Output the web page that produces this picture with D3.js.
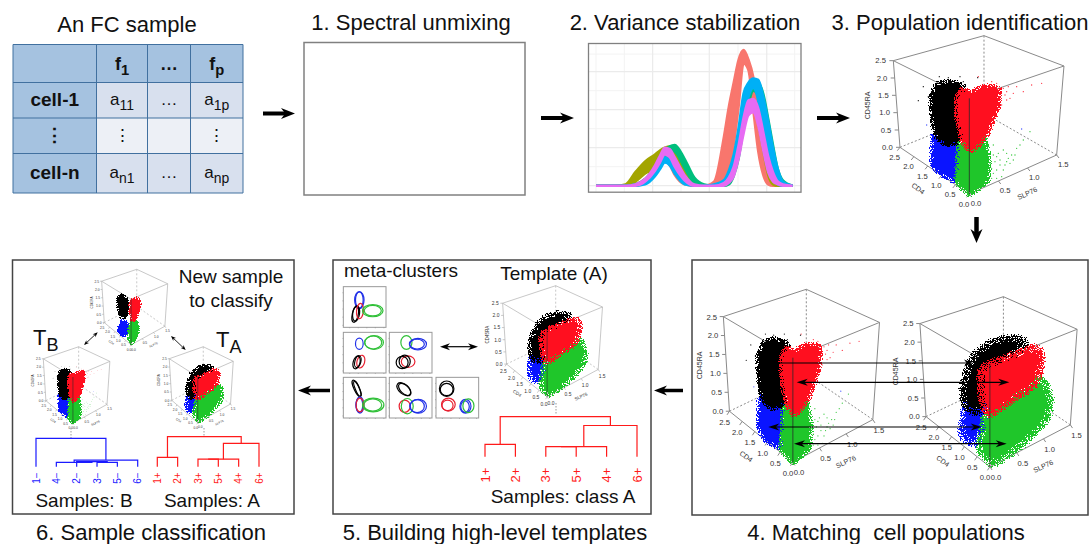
<!DOCTYPE html>
<html>
<head>
<meta charset="utf-8">
<script src="https://cdn.jsdelivr.net/npm/d3@7"></script>
<style>
body { margin: 0; background: #fff; }
svg { display: block; }
text { font-family: "Liberation Sans", Arial, sans-serif; fill: #111; }
</style>
</head>
<body>
<div id="chart"></div>
<script>
// ---------- table values ----------
const tableCols = ["", "f|1", "…", "f|p"];
const tableRows = ["cell-1", "⋮", "cell-n"];
const tableCells = [
  ["a|11", "…", "a|1p"],
  ["⋮", "", "⋮"],
  ["a|n1", "…", "a|np"]
];

// ---------- density curves (step 2): outer and inner edge of each colour's bundle ----------
const densX = [0, 1, 1.5, 2, 2.5, 3, 3.25, 3.5, 3.75, 4, 4.5, 5, 5.5, 6, 6.5, 6.75, 7, 7.25, 7.5, 7.75, 8, 8.25, 8.5, 8.75, 9, 9.25, 9.5, 10];
const salmonOuter = [0,0,0,.01,.05,.13,.19,.22,.19,.13,.04,.01,0,.03,.36,.58,.76,.93,1,.93,.8,.55,.3,.1,.01,0,0,0];
const salmonInner = [0,0,0,0,.02,.08,.14,.18,.15,.08,.01,0,0,0,.02,.1,.3,.58,.9,.85,.55,.25,.08,.01,0,0,0,0];
const oliveOuter = [0,0,.01,.1,.18,.23,.26,.28,.29,.26,.14,.03,0,0,.02,.08,.18,.35,.55,.62,.63,.58,.44,.25,.1,.03,.01,0];
const oliveInner = [0,0,0,.03,.09,.13,.17,.22,.24,.18,.05,0,0,0,0,.03,.1,.25,.48,.58,.6,.46,.26,.08,.01,0,0,0];
const greenOuter = [0,0,0,.01,.05,.14,.2,.26,.29,.3,.2,.06,.01,0,.01,.05,.13,.3,.55,.7,.77,.76,.68,.5,.3,.12,.04,0];
const greenInner = [0,0,0,0,.03,.09,.15,.22,.26,.25,.13,.02,0,0,0,.01,.07,.2,.42,.6,.7,.66,.5,.28,.11,.03,0,0];
const blueOuter = [0,0,0,.01,.03,.1,.16,.21,.19,.13,.03,0,0,.01,.04,.11,.23,.43,.68,.76,.79,.78,.66,.48,.28,.12,.03,0];
const blueInner = [0,0,0,0,.01,.07,.12,.17,.15,.09,.01,0,0,0,.01,.03,.09,.22,.45,.65,.72,.62,.36,.16,.06,.01,0,0];
const magentaOuter = [0,0,0,.01,.05,.15,.22,.28,.27,.21,.08,.01,0,0,.02,.06,.14,.3,.5,.63,.64,.57,.4,.22,.1,.03,.01,0];
const magentaInner = [0,0,0,0,.03,.11,.17,.23,.21,.14,.04,0,0,0,0,.02,.07,.2,.38,.52,.54,.44,.26,.1,.03,.01,0,0];
const densitySeries = [
  { color: "#F8766D", outer: salmonOuter, inner: salmonInner },
  { color: "#A3A500", outer: oliveOuter, inner: oliveInner },
  { color: "#00BF7D", outer: greenOuter, inner: greenInner },
  { color: "#00B0F6", outer: blueOuter, inner: blueInner },
  { color: "#E76BF3", outer: magentaOuter, inner: magentaInner }
];
const densMajorX = [2.88, 5.76, 8.68], densMinorX = [0, 1.44, 4.32, 7.22, 10.1];
const densMajorY = [0, .28, .56, .84], densMinorY = [.14, .42, .7, .97];

// ---------- 3D scatter frame (SLP76, CD4, CD45RA) read in a 723x630 drawing frame ----------
const boxCorners = {
  tl: [130, 92], tr: [642, 108], back: [402, 17], front: [358, 205],
  bl: [150, 352], br: [620, 375], base: [358, 492], hidden: [402, 250]
};
const ticksSLP = [0, 0.5, 1, 1.5];
const ticksCD4 = [0, 0.5, 1, 1.5, 2, 2.5];
const ticksCD45 = [0, 0.5, 1, 1.5, 2, 2.5];

// population outlines in frame coordinates
const tightCloud = {
  black: [[258,160],[300,150],[345,165],[348,205],[335,250],[338,320],[320,342],[290,348],[258,328],[245,280],[240,200]],
  red: [[318,200],[335,172],[360,186],[400,166],[452,170],[447,235],[415,312],[390,348],[360,368],[335,335],[318,260]],
  blue: [[246,310],[330,310],[334,370],[330,395],[320,458],[300,450],[262,430],[244,402]],
  green: [[325,330],[405,308],[420,390],[416,455],[360,500],[316,458]]
};
const broadCloud = {
  black: [[304,180],[358,143],[423,129],[478,138],[483,152],[400,200],[350,264],[345,329],[304,347],[271,320],[266,273],[282,226]],
  red: [[326,217],[358,203],[516,152],[532,189],[510,264],[423,310],[358,352],[337,338],[326,273]],
  blue: [[277,310],[345,320],[350,357],[326,403],[315,436],[271,417],[263,394]],
  green: [[340,345],[423,290],[532,240],[559,301],[548,357],[467,431],[364,492],[320,445],[331,394]]
};
const narrowCloud = {
  black: [[252,189],[285,168],[324,189],[345,262],[325,325],[272,325],[252,262]],
  red: [[350,210],[414,189],[435,231],[414,294],[393,346],[362,346],[340,283]],
  blue: [[278,335],[330,340],[337,399],[311,441],[272,430],[252,392]],
  green: [[355,335],[407,340],[427,399],[396,462],[355,493],[334,451],[334,399]]
};
const strayRed = [[470,185],[490,190],[520,185],[545,165],[575,160],[425,155],[440,160],[450,200],[470,210],[385,140],[460,175],[480,205],[500,170],[465,195],[455,225],[475,170]];
const strayGreen = [[420,400],[440,380],[470,370],[490,390],[460,420],[430,430],[500,355],[520,330],[540,305],[480,400],[450,405],[415,360],[440,420],[470,395],[455,440],[435,395],[475,385],[425,415],[445,370],[465,405],[430,375],[485,375],[450,390],[425,445],[440,445],[495,375],[460,360],[430,345],[510,345]];
const strayBlack = [[268,140],[295,143],[220,170],[205,212],[383,143],[340,155],[235,200],[245,185],[330,140]];
const strayBlue = [[515,297],[230,285]];

// every scatter panel: where the frame lands on the page and which outlines it uses
const scatterPanels = [
  { x0: 850, y0: 30, kx: .3333, ky: .3333, cloud: tightCloud, stray: true, spread: 2.5 },
  { x0: 683.7, y0: 283.1, kx: .305, ky: .364, cloud: tightCloud, stray: true, spread: 2.5 },
  { x0: 880, y0: 290.6, kx: .307, ky: .358, cloud: broadCloud, spread: 5 },
  { x0: 477.3, y0: 281.7, kx: .195, ky: .234, cloud: broadCloud, spread: 3 },
  { x0: 84.9, y0: 266.6, kx: .129, ky: .159, cloud: narrowCloud, spread: 1.2 },
  { x0: 26.4, y0: 344, kx: .13, ky: .161, cloud: tightCloud, stray: true, spread: 1.2 },
  { x0: 153, y0: 344, kx: .125, ky: .16, cloud: broadCloud, spread: 2 }
];

// ---------- meta-cluster ellipses: cx, cy, rx, ry, rotation, colour ----------
const metaBoxes = [[40,95],[40,232],[178,232],[40,367],[178,367],[318,367]];
const metaEllipses = [
  [[.375,.33,.09,.2,0,"b"],[.375,.33,.11,.21,0,"b"],[.28,.68,.07,.2,12,"k"],[.3,.66,.08,.19,8,"k"],[.39,.6,.08,.19,5,"r"],[.69,.59,.2,.13,0,"g"],[.69,.59,.24,.15,0,"g"]],
  [[.375,.28,.09,.14,0,"b"],[.7,.25,.2,.16,0,"g"],[.72,.25,.22,.17,0,"g"],[.41,.72,.09,.16,15,"r"],[.31,.74,.08,.16,15,"k"],[.34,.72,.07,.15,15,"k"]],
  [[.4,.25,.13,.17,0,"g"],[.65,.29,.17,.12,0,"b"],[.67,.29,.2,.14,0,"b"],[.44,.72,.16,.14,0,"r"],[.3,.74,.14,.15,0,"k"],[.36,.72,.13,.16,0,"k"]],
  [[.31,.27,.06,.22,-25,"k"],[.33,.28,.05,.2,-22,"k"],[.375,.68,.08,.18,0,"b"],[.39,.68,.09,.2,0,"b"],[.39,.68,.09,.17,0,"r"],[.69,.68,.21,.15,0,"g"],[.7,.68,.25,.17,0,"g"]],
  [[.34,.29,.19,.12,40,"k"],[.36,.3,.18,.1,45,"k"],[.36,.71,.13,.15,0,"r"],[.42,.71,.14,.19,0,"g"],[.65,.71,.17,.16,0,"b"],[.68,.71,.19,.17,0,"b"]],
  [[.25,.28,.17,.19,0,"k"],[.25,.3,.15,.15,0,"k"],[.29,.67,.16,.16,0,"r"],[.27,.69,.13,.13,0,"r"],[.69,.71,.13,.17,0,"b"],[.68,.72,.1,.14,0,"b"],[.76,.7,.13,.17,0,"g"]]
];
const metaColor = { b: "#2030e8", g: "#30c038", r: "#e82030", k: "#000" };

// ---------- dendrograms: leaves in order, merges as [left node, right node, height] ----------
const leavesClassA = ["1+", "2+", "3+", "5+", "4+", "6+"];
const mergesClassA = [[0, 1, .31], [2, 3, .25], [7, 4, .25], [8, 5, .78], [6, 9, 1]];
const leavesClassB = ["1−", "4−", "2−", "3−", "5−", "6−"];
const mergesClassB = [[3, 4, .15], [2, 6, .18], [1, 7, .15], [8, 5, .235], [0, 9, 1]];

// ---------- drawing ----------
const width = 1091, height = 544;
const svg = d3.select("#chart").append("svg").attr("width", width).attr("height", height);
const defs = svg.append("defs");

// turns a flat outline into a stipple of single points that thins out at its edge
const speckleMade = {};
function speckle(color, spread) {
  const id = "sp" + color.slice(1) + String(spread).replace(".", "_");
  if (speckleMade[id]) return "url(#" + id + ")";
  speckleMade[id] = true;
  const f = defs.append("filter").attr("id", id).attr("filterUnits", "userSpaceOnUse")
    .attr("x", 0).attr("y", 0).attr("width", width).attr("height", height)
    .attr("color-interpolation-filters", "sRGB");
  f.append("feGaussianBlur").attr("in", "SourceAlpha").attr("stdDeviation", spread).attr("result", "b");
  f.append("feTurbulence").attr("type", "fractalNoise").attr("baseFrequency", 0.85).attr("numOctaves", 2)
    .attr("seed", Object.keys(speckleMade).length * 7).attr("result", "t");
  // stretch the noise so the edge band is a real stipple and not a hard line
  f.append("feComponentTransfer").attr("in", "t").attr("result", "n")
    .append("feFuncA").attr("type", "linear").attr("slope", 4).attr("intercept", -1.5);
  f.append("feComposite").attr("in", "b").attr("in2", "n").attr("operator", "arithmetic")
    .attr("k1", 2).attr("k2", 0.6).attr("k3", 0).attr("k4", 0).attr("result", "m");
  f.append("feComponentTransfer").attr("in", "m").attr("result", "hard")
    .append("feFuncA").attr("type", "discrete").attr("tableValues", "0 1");
  f.append("feFlood").attr("flood-color", color).attr("result", "col");
  f.append("feComposite").attr("in", "col").attr("in2", "hard").attr("operator", "in");
  return "url(#" + id + ")";
}

function label(g, x, y, str, size, opts) {
  opts = opts || {};
  const t = g.append("text").attr("x", x).attr("y", y).attr("font-size", size)
    .attr("text-anchor", opts.anchor || "middle").style("white-space", "pre");
  if (opts.bold) t.attr("font-weight", "bold");
  if (opts.color) t.style("fill", opts.color);
  if (opts.rotate !== undefined) t.attr("transform", "rotate(" + opts.rotate + " " + x + " " + y + ")");
  const parts = str.split("|");
  t.append("tspan").text(parts[0]);
  if (parts[1]) t.append("tspan").attr("font-size", size * 0.82).attr("dy", size * 0.3).text(parts[1]);
  return t;
}

// block arrow with a notched head, ends at (x2,y2)
function arrow(x1, y1, x2, y2, w, headLen, headW, both) {
  const a = Math.atan2(y2 - y1, x2 - x1) * 180 / Math.PI;
  const len = Math.hypot(x2 - x1, y2 - y1);
  const g = svg.append("g").attr("transform", "translate(" + x1 + "," + y1 + ") rotate(" + a + ")");
  g.append("line").attr("x1", both ? headLen * .6 : 0).attr("x2", len - headLen * .6).attr("stroke", "#000").attr("stroke-width", w);
  const head = d3.path();
  head.moveTo(len, 0); head.lineTo(len - headLen, -headW / 2); head.lineTo(len - headLen * .7, 0); head.lineTo(len - headLen, headW / 2); head.closePath();
  g.append("path").attr("d", head.toString());
  if (both) g.append("path").attr("d", head.toString()).attr("transform", "translate(" + len + ",0) scale(-1,1)");
}

// titles
const titles = svg.append("g");
[["An FC sample", 127, 32], ["1. Spectral unmixing", 411, 30], ["2. Variance stabilization", 685, 30],
 ["3. Population identification", 960, 30], ["4. Matching  cell populations", 886, 540],
 ["5. Building high-level templates", 495, 540], ["6. Sample classification", 151, 540]
].forEach(d => label(titles, d[1], d[2], d[0], 22));

// panel outlines
const panels = svg.append("g").attr("fill", "none");
panels.append("rect").attr("x", 304).attr("y", 42.5).attr("width", 221).attr("height", 152.5).attr("stroke", "#808080").attr("stroke-width", 1.5);
[[12.5, 260, 281.5, 254], [333, 260, 318, 254], [692, 260, 396, 255]].forEach(d =>
  panels.append("rect").attr("x", d[0]).attr("y", d[1]).attr("width", d[2]).attr("height", d[3]).attr("stroke", "#444").attr("stroke-width", 1.5));

// ----- FC table -----
const colX = [13, 96.5, 147.5, 190.5, 243];
const rowY = [44.5, 82.5, 118, 153.5, 193];
const table = svg.append("g");
const rowFill = ["#D8E0EE", "#EDF0F6", "#D8E0EE"];
const cx = i => (colX[i] + colX[i + 1]) / 2, cy = i => (rowY[i] + rowY[i + 1]) / 2;
tableCols.forEach((c, i) => {
  table.append("rect").attr("x", colX[i]).attr("y", rowY[0]).attr("width", colX[i + 1] - colX[i]).attr("height", rowY[1] - rowY[0]).attr("fill", "#A5C2E0");
  if (c) label(table, cx(i), cy(0) + 6, c, 18, { bold: true });
});
tableRows.forEach((r, j) => {
  table.append("rect").attr("x", colX[0]).attr("y", rowY[j + 1]).attr("width", colX[1] - colX[0]).attr("height", rowY[j + 2] - rowY[j + 1]).attr("fill", "#A5C2E0");
  label(table, cx(0), cy(j + 1) + 6, r, 19, { bold: true });
  tableCells[j].forEach((c, i) => {
    table.append("rect").attr("x", colX[i + 1]).attr("y", rowY[j + 1]).attr("width", colX[i + 2] - colX[i + 1]).attr("height", rowY[j + 2] - rowY[j + 1]).attr("fill", rowFill[j]);
    if (c) label(table, cx(i + 1), cy(j + 1) + 5, c, 17);
  });
});
colX.forEach(x => table.append("line").attr("x1", x).attr("x2", x).attr("y1", rowY[0]).attr("y2", rowY[4]).attr("stroke", "#41709F").attr("stroke-width", 1));
rowY.forEach(y => table.append("line").attr("x1", colX[0]).attr("x2", colX[4]).attr("y1", y).attr("y2", y).attr("stroke", "#41709F").attr("stroke-width", 1));

// ----- density plot -----
const densXScale = d3.scaleLinear().domain([0, 10]).range([596, 792.7]);
const densYScale = d3.scaleLinear().domain([0, 1]).range([185.7, 50]);
const dens = svg.append("g");
densMinorX.forEach(v => dens.append("line").attr("x1", densXScale(v)).attr("x2", densXScale(v)).attr("y1", 44).attr("y2", 192).attr("stroke", "#f3f3f3").attr("stroke-width", 1));
densMinorY.forEach(v => dens.append("line").attr("x1", 589).attr("x2", 801).attr("y1", densYScale(v)).attr("y2", densYScale(v)).attr("stroke", "#f3f3f3").attr("stroke-width", 1));
densMajorX.forEach(v => dens.append("line").attr("x1", densXScale(v)).attr("x2", densXScale(v)).attr("y1", 44).attr("y2", 192).attr("stroke", "#ebebeb").attr("stroke-width", 1.2));
densMajorY.forEach(v => dens.append("line").attr("x1", 589).attr("x2", 801).attr("y1", densYScale(v)).attr("y2", densYScale(v)).attr("stroke", "#ebebeb").attr("stroke-width", 1.2));
const densBand = d3.area().x(d => densXScale(d.x)).y0(d => densYScale(d.lo)).y1(d => densYScale(d.hi)).curve(d3.curveMonotoneX);
densitySeries.forEach(s => {
  dens.append("path").datum(densX.map((x, i) => ({ x: x, lo: s.inner[i], hi: s.outer[i] })))
    .attr("d", densBand).attr("fill", s.color).attr("stroke", s.color).attr("stroke-width", 2.4);
});
dens.append("rect").attr("x", 588.5).attr("y", 43.5).attr("width", 212.5).attr("height", 148.7)
  .attr("fill", "none").attr("stroke", "#808080").attr("stroke-width", 1.3);

// ----- 3D scatter panels -----
function drawScatter(p, i) {
  const g = svg.append("g");
  const sx = d3.scaleLinear().domain([0, 723]).range([p.x0, p.x0 + 723 * p.kx]);
  const sy = d3.scaleLinear().domain([0, 630]).range([p.y0, p.y0 + 630 * p.ky]);
  const fs = Math.max(23 * (p.kx + p.ky) / 2, 2.8);
  const c = boxCorners;
  const seg = (a, b, stroke, w, dash) => {
    const l = g.append("line").attr("x1", sx(a[0])).attr("y1", sy(a[1])).attr("x2", sx(b[0])).attr("y2", sy(b[1]))
      .attr("stroke", stroke).attr("stroke-width", w);
    if (dash) l.attr("stroke-dasharray", dash);
  };
  const lw = p.kx > .25 ? 1 : .7;
  const gray = p.kx > .25 ? "#8a8a8a" : "#b0b0b0";
  [[c.tl, c.back], [c.back, c.tr], [c.tr, c.front], [c.tl, c.front], [c.tl, c.bl], [c.tr, c.br], [c.bl, c.base], [c.br, c.base]]
    .forEach(e => seg(e[0], e[1], gray, lw));
  [[c.back, c.hidden], [c.bl, c.hidden], [c.br, c.hidden]].forEach(e => seg(e[0], e[1], gray, lw, "2,2"));

  // axes as 2D scales running along the box edges
  const zAxis = d3.scaleLinear().domain([0, 2.5]).range([c.bl, c.tl]);
  const yAxis = d3.scaleLinear().domain([0, 2.5]).range([c.base, c.bl]);
  const xAxis = d3.scaleLinear().domain([0, 1.5]).range([c.base, c.br]);
  ticksCD45.forEach(v => {
    const e = zAxis(v);
    seg(e, [e[0] - 12, e[1]], gray, lw);
    label(g, sx(e[0] - 38), sy(e[1] + 8), v.toFixed(1), fs, { color: "#333" });
  });
  ticksCD4.forEach(v => {
    const e = yAxis(v);
    seg(e, [e[0] - 8, e[1] + 10], gray, lw);
    label(g, sx(e[0] - 16), sy(e[1] + 38), v.toFixed(1), fs, { color: "#333" });
  });
  ticksSLP.forEach(v => {
    const e = xAxis(v);
    seg(e, [e[0] + 7, e[1] + 9], gray, lw);
    label(g, sx(e[0] + 20), sy(e[1] + 36), v.toFixed(1), fs, { color: "#333" });
  });
  label(g, sx(60), sy(226), "CD45RA", fs * .92, { rotate: -90, color: "#333" });
  label(g, sx(200), sy(482), "CD4", fs * .92, { rotate: 35, color: "#333" });
  label(g, sx(535), sy(497), "SLP76", fs * .92, { rotate: -25, color: "#333" });

  const outline = d3.line().x(d => sx(d[0])).y(d => sy(d[1])).curve(d3.curveLinearClosed);
  [["#0a14ff", p.cloud.blue], ["#1fc62a", p.cloud.green], ["#000000", p.cloud.black], ["#ff0f1f", p.cloud.red]]
    .forEach(d => g.append("path").attr("d", outline(d[1])).attr("fill", d[0]).attr("filter", speckle(d[0], p.spread)));
  if (p.stray) {
    [["#ff3040", strayRed], ["#33c83a", strayGreen], ["#111", strayBlack], ["#4050ff", strayBlue]].forEach(d =>
      d[1].forEach(q => g.append("circle").attr("cx", sx(q[0])).attr("cy", sy(q[1])).attr("r", 2 * p.kx).attr("fill", d[0])));
  }
  // front edge sits on top of the points
  seg(c.front, c.base, "#2a2a2a", lw * .8);
}
scatterPanels.forEach(drawScatter);

// dotted drops from scatter plots to the trees
[[556, 403, 415], [204, 428, 437], [71, 428, 438.5]].forEach(d =>
  svg.append("line").attr("x1", d[0]).attr("x2", d[0]).attr("y1", d[1]).attr("y2", d[2]).attr("stroke", "#999").attr("stroke-dasharray", "1.5,1.5"));

// ----- meta-cluster small multiples -----
const meta = svg.append("g");
const metaX = d3.scaleLinear().domain([0, 723]).range([330, 330 + 723 / 3]);
const metaY = d3.scaleLinear().domain([0, 630]).range([255, 255 + 630 / 3]);
metaBoxes.forEach((b, i) => {
  const x = d3.scaleLinear().domain([0, 1]).range([metaX(b[0]), metaX(b[0] + 128)]);
  const y = d3.scaleLinear().domain([0, 1]).range([metaY(b[1]), metaY(b[1] + 122)]);
  const g = meta.append("g");
  g.append("rect").attr("x", x(0)).attr("y", y(0)).attr("width", x(1) - x(0)).attr("height", y(1) - y(0))
    .attr("fill", "#fff").attr("stroke", "#999").attr("stroke-width", 1);
  [.15, .35, .55, .75, .95].forEach(t => {
    g.append("line").attr("x1", x(0)).attr("x2", x(0) - 1).attr("y1", y(t)).attr("y2", y(t)).attr("stroke", "#888").attr("stroke-width", .5);
    g.append("line").attr("x1", x(t)).attr("x2", x(t)).attr("y1", y(1)).attr("y2", y(1) + 1).attr("stroke", "#888").attr("stroke-width", .5);
  });
  metaEllipses[i].forEach(e => {
    g.append("ellipse").attr("cx", x(e[0])).attr("cy", y(e[1]))
      .attr("rx", x(e[2]) - x(0)).attr("ry", y(e[3]) - y(0))
      .attr("transform", "rotate(" + e[4] + " " + x(e[0]) + " " + y(e[1]) + ")")
      .attr("fill", "none").attr("stroke", metaColor[e[5]]).attr("stroke-width", 1.2);
  });
});

// ----- dendrograms -----
function drawTree(leaves, merges, color, xr, yr, labelY, fs) {
  const g = svg.append("g");
  const x = d3.scalePoint().domain(leaves).range(xr);
  const y = d3.scaleLinear().domain([0, 1]).range(yr);
  const nodes = leaves.map(l => ({ x: x(l), h: 0 }));
  merges.forEach(m => {
    const a = nodes[m[0]], b = nodes[m[1]];
    const p = d3.path();
    p.moveTo(a.x, y(a.h)); p.lineTo(a.x, y(m[2])); p.lineTo(b.x, y(m[2])); p.lineTo(b.x, y(b.h));
    g.append("path").attr("d", p.toString()).attr("fill", "none").attr("stroke", color).attr("stroke-width", 1.2);
    nodes.push({ x: (a.x + b.x) / 2, h: m[2] });
  });
  leaves.forEach(l => label(g, x(l) + fs * .36, labelY, l, fs, { color: color, rotate: -90 }));
}
drawTree(leavesClassA, mergesClassA, "#ff1a1a", [485, 637], [456.7, 416.7], 475, 13);
drawTree(leavesClassA, mergesClassA, "#ff1a1a", [157.3, 259], [466.7, 436.7], 478, 10);
drawTree(leavesClassB, mergesClassB, "#1a1aff", [36, 137.7], [466.7, 438.3], 478, 10);

// ----- panel text -----
const notes = svg.append("g");
label(notes, 231, 283, "New sample", 19);
label(notes, 231, 307, "to classify", 19);
label(notes, 33, 344.5, "T|B", 22, { anchor: "start" });
label(notes, 216, 346.7, "T|A", 22, { anchor: "start" });
label(notes, 84, 507, "Samples: B", 19);
label(notes, 212, 507, "Samples: A", 19);
label(notes, 401, 277, "meta-clusters", 19);
label(notes, 554, 280, "Template (A)", 19);
label(notes, 563, 503, "Samples: class A", 19);

// ----- arrows -----
arrow(263, 113.5, 295, 113.5, 4, 14, 11);
arrow(541, 118, 574, 118, 4, 14, 11);
arrow(817, 118, 850, 118, 4, 14, 11);
arrow(976.5, 217, 976.5, 243, 4.5, 14, 12);
arrow(683, 390.5, 654, 390.5, 3.5, 13, 10);
arrow(330, 390.5, 298, 390.5, 3.5, 13, 10);
arrow(440, 346.7, 478, 346.7, 1.2, 10, 7, true);
arrow(84, 345, 97.7, 332.3, .8, 5, 4, true);
arrow(171, 336, 185.7, 350, .8, 5, 4, true);
arrow(770, 363, 973, 363, 1.2, 9, 7, true);
arrow(796.7, 382.3, 1009.3, 382.3, 1.2, 11, 7, true);
arrow(768.3, 427, 981.7, 427, 1.2, 11, 7, true);
arrow(794, 443.7, 1006.7, 443.7, 1.2, 11, 7, true);
</script>
</body>
</html>
